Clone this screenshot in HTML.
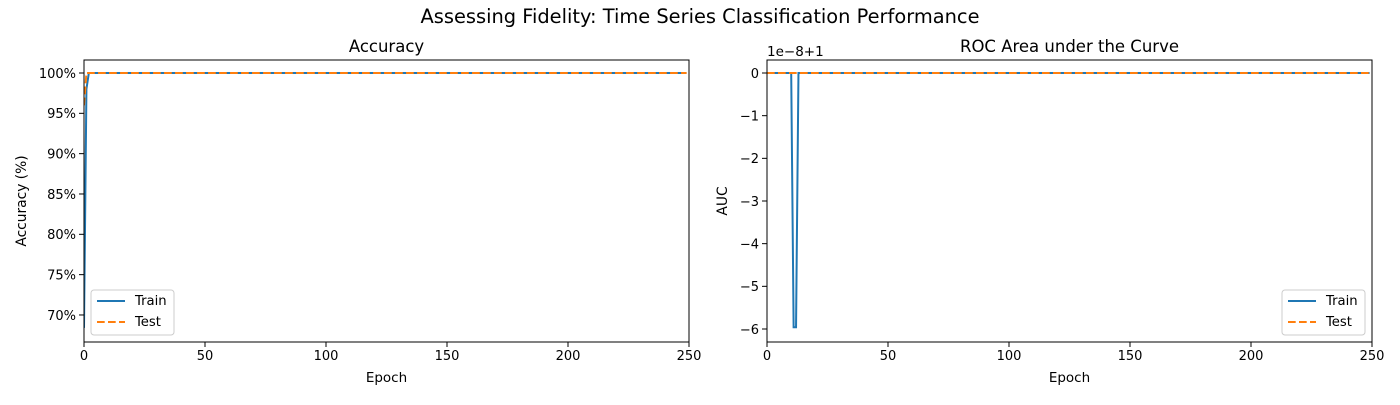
<!DOCTYPE html>
<html><head><meta charset="utf-8"><style>
body{margin:0;background:#fff;font-family:"Liberation Sans","DejaVu Sans",sans-serif}
svg text{font-family:"DejaVu Sans","Liberation Sans",sans-serif;fill:#000}
</style></head><body>
<svg id="c" width="1400" height="400" xmlns="http://www.w3.org/2000/svg">
<rect width="1400" height="400" fill="#fff"/>
<text x="700" y="23" font-size="19.4" text-anchor="middle">Assessing Fidelity: Time Series Classification Performance</text>
</svg>
<script>
const accTrainHead=[68.4,98.0];
const accTestHead=[96.0];
const aucTrainHead=[0,0,0,0,0,0,0,0,0,0,0,-5.96,-5.96];
const nEpochs=250;
const accTrain=accTrainHead.concat(Array(nEpochs-accTrainHead.length).fill(100));
const accTest=accTestHead.concat(Array(nEpochs-accTestHead.length).fill(100));
const aucTrain=aucTrainHead.concat(Array(nEpochs-aucTrainHead.length).fill(0));
const aucTest=Array(nEpochs).fill(0);
const xTicks=[0,50,100,150,200,250];
const accTicks=[70,75,80,85,90,95,100];
const aucTicks=[0,-1,-2,-3,-4,-5,-6];

const svg=document.getElementById('c');
const NS='http://www.w3.org/2000/svg';
function mk(tag,attrs,parent){const e=document.createElementNS(NS,tag);for(const k in attrs)e.setAttribute(k,attrs[k]);(parent||svg).appendChild(e);return e;}

function panel(p){
  const g=mk('g',{});
  
  
  const L=p.x0,R=p.x1,T=60,B=342;
  const xs=v=>L+(v-0)/(250-0)*(R-L);
  const ys=v=>T+(p.ymax-v)/(p.ymax-p.ymin)*(B-T);
  const t=mk('text',{x:(L+R)/2,y:52,'font-size':16.5,'text-anchor':'middle'},g);t.textContent=p.title;
  
  
  xTicks.forEach(v=>{mk('line',{x1:xs(v),x2:xs(v),y1:B,y2:B+5,stroke:'#000','stroke-width':1},g);
    const tx=mk('text',{x:xs(v),y:B+18,'font-size':13,'text-anchor':'middle'},g);tx.textContent=v;
    
    });
  p.yticks.forEach(v=>{mk('line',{x1:L-5,x2:L,y1:ys(v),y2:ys(v),stroke:'#000','stroke-width':1},g);
    const ty=mk('text',{x:L-8,y:ys(v)+4.8,'font-size':13,'text-anchor':'end'},g);ty.textContent=p.fmt(v);
    
    });
  const xl=mk('text',{x:(L+R)/2,y:382,'font-size':13.5,'text-anchor':'middle'},g);xl.textContent='Epoch';
  
  
  const yl=mk('text',{x:0,y:0,'font-size':13.8,'text-anchor':'middle',transform:`translate(${p.ylx},${(T+B)/2}) rotate(-90)`},g);yl.textContent=p.ylabel;
  
  
  if(p.offset){const o=mk('text',{x:L,y:56,'font-size':13.5},g);o.textContent=p.offset;
    
    }
  const cp='clip'+p.name;const cd=mk('clipPath',{id:cp},g);mk('rect',{x:L,y:T,width:R-L,height:B-T},cd);
  const line=(arr,color,dash,nm)=>{const d=arr.map((v,i)=>(i?'L':'M')+xs(i).toFixed(2)+' '+ys(v).toFixed(2)).join(' ');
    const pth=mk('path',{d,fill:'none',stroke:color,'stroke-width':2,'clip-path':`url(#${cp})`,'stroke-dasharray':dash||'none'},g);
    
    };
  line(p.train,'#1f77b4',null,'train-line');
  line(p.test,'#ff7f0e','7.7,3.3','test-line');
  mk('rect',{x:L,y:T,width:R-L,height:B-T,fill:'none',stroke:'#000','stroke-width':1},g);
  const lx=p.legX,ly=290;
  const lg=mk('g',{},g);
  
  
  mk('rect',{x:lx,y:ly,width:83,height:45,rx:3,fill:'#fff',stroke:'#ccc','stroke-width':1},lg);
  mk('line',{x1:lx+6,x2:lx+34,y1:ly+11,y2:ly+11,stroke:'#1f77b4','stroke-width':2},lg);
  mk('line',{x1:lx+6,x2:lx+34,y1:ly+32,y2:ly+32,stroke:'#ff7f0e','stroke-width':2,'stroke-dasharray':'7.7,3.3'},lg);
  const a=mk('text',{x:lx+44,y:ly+15,'font-size':13.2},lg);a.textContent='Train';
  
  
  const b=mk('text',{x:lx+44,y:ly+36,'font-size':13.2},lg);b.textContent='Test';
  
  
}
panel({name:'accuracy-panel',title:'Accuracy',x0:84,x1:689,ymin:66.65,ymax:101.61,yticks:accTicks,fmt:v=>v+'%',ylabel:'Accuracy (%)',ylx:26,train:accTrain,test:accTest,legX:91});
panel({name:'auc-panel',title:'ROC Area under the Curve',x0:767,x1:1372,ymin:-6.305,ymax:0.305,yticks:aucTicks,fmt:v=>v<0?'\u2212'+(-v):''+v,ylabel:'AUC',ylx:727,train:aucTrain,test:aucTest,legX:1282,offset:'1e\u22128+1'});
</script>
</body></html>
